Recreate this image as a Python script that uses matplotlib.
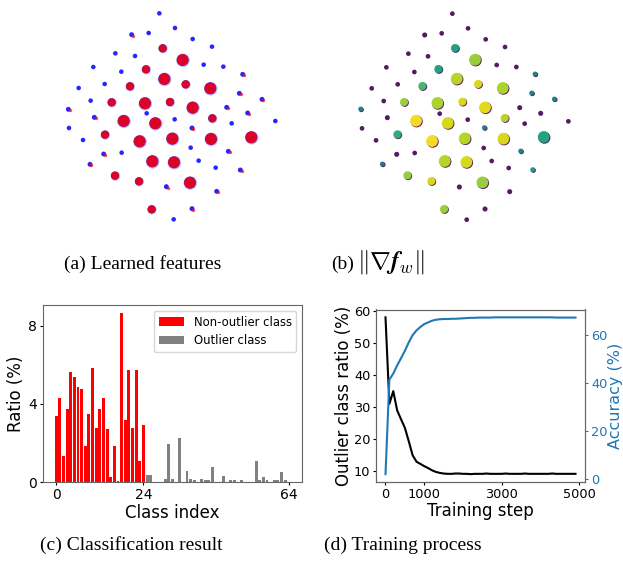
import numpy as np
import matplotlib
matplotlib.use('Agg')
import matplotlib.pyplot as plt

plt.rcParams['mathtext.fontset'] = 'cm'

# cluster centres of the feature embedding (picture coords, y downwards)
cx = [328, 375, 245, 296, 428, 486, 338, 196, 255, 398, 461, 520, 130, 214, 288, 578, 343,
      407, 164, 240, 481, 568, 86, 636, 122, 185, 285, 360, 428, 530, 55, 593, 290, 133,
      221, 316, 374, 487, 676, 57, 426, 545, 99, 165, 269, 367, 483, 604, 422, 215, 161,
      535, 446, 307, 372, 120, 497, 571, 195, 267, 420, 349, 500, 305, 426, 371]
cy = [40, 84, 104, 99, 117, 140, 145, 160, 168, 180, 194, 200, 201, 215, 208, 223, 237,
      253, 252, 259, 265, 280, 264, 298, 302, 307, 310, 306, 323, 322, 328, 339, 340, 352,
      363, 370, 358, 355, 363, 384, 384, 370, 420, 404, 424, 416, 417, 412, 443, 458, 462,
      454, 482, 484, 487, 493, 503, 510, 527, 544, 548, 560, 574, 628, 626, 658]
# 0 = outlier only, 1 = mostly outlier, 2 = medium class, 3 = big class
ctype = [0, 0, 1, 0, 0, 0, 2, 0, 0, 3, 0, 0, 0, 0, 2, 1, 3,
         2, 0, 2, 3, 1, 0, 1, 0, 2, 3, 2, 3, 1, 1, 1, 0, 1,
         3, 3, 0, 2, 0, 0, 1, 0, 0, 2, 3, 3, 3, 3, 0, 0, 1,
         1, 0, 3, 3, 1, 0, 1, 2, 2, 3, 1, 1, 2, 1, 0]
# gradient norm (0..1) per cluster
grad = [0, 0, 0, 0, 0, 0, 0.6, 0, 0, 0.85, 0, 0, 0, 0, 0.6, 0.45, 0.9,
        0.95, 0, 0.7, 0.88, 0.45, 0, 0.45, 0, 0.85, 0.88, 0.95, 0.97, 0, 0.45, 0, 0, 0,
        1.0, 0.95, 0, 0.9, 0, 0, 0.45, 0, 0, 0.65, 1.0, 0.9, 0.95, 0.6, 0, 0, 0,
        0.45, 0, 0.9, 0.95, 0.4, 0, 0.55, 0.85, 0.95, 0.85, 0, 0, 0.85, 0, 0]

# classification result
red_vals = [3.38, 4.33, 1.34, 3.72, 5.62, 5.36, 4.88, 4.76, 1.83, 3.5, 5.86, 2.78, 3.72,
            4.33, 2.72, 0.28, 1.83, 0.05, 8.64, 3.16, 5.74, 2.78, 5.74, 1.09, 2.9]
grey_vals = [0.36, 0.36, 0, 0, 0, 0.16, 1.93, 0.15, 0, 2.28, 0, 0.55, 0.13, 0.08, 0,
             0.15, 0.08, 0.08, 0.76, 0, 0, 0.3, 0, 0.08, 0.08, 0, 0.12, 0, 0, 0,
             1.06, 0.08, 0.26, 0.08, 0, 0.12, 0.08, 0.5, 0.08, 0]

# training process
steps = np.arange(0, 5000, 100)
outlier_ratio = [58.1, 31.0, 35.0, 29.0, 26.2, 23.5, 19.3, 14.9, 12.9, 12.2,
                 11.5, 10.9, 10.2, 9.7, 9.4, 9.2, 9.1, 9.1, 9.2, 9.2,
                 9.1, 9.1, 9.0, 9.1, 9.1, 9.1, 9.2, 9.1, 9.1, 9.1,
                 9.1, 9.2, 9.1, 9.1, 9.1, 9.1, 9.2, 9.1, 9.1, 9.1,
                 9.1, 9.1, 9.1, 9.2, 9.1, 9.1, 9.1, 9.1, 9.1, 9.1]
accuracy = [2.2, 41.5, 44.0, 47.4, 50.4, 53.5, 57.0, 60.0, 62.0, 63.4,
            64.6, 65.3, 66.0, 66.4, 66.6, 66.7, 66.7, 66.8, 66.8, 66.9,
            67.0, 67.1, 67.2, 67.2, 67.3, 67.3, 67.3, 67.3, 67.4, 67.4,
            67.4, 67.4, 67.4, 67.4, 67.4, 67.4, 67.4, 67.4, 67.4, 67.4,
            67.4, 67.4, 67.4, 67.4, 67.3, 67.3, 67.3, 67.3, 67.3, 67.3]

W, H = 623, 563
fig = plt.figure(figsize=(W / 100, H / 100), dpi=100)


def px_axes(left, top, width, height):
    return fig.add_axes([left / W, 1 - (top + height) / H, width / W, height / H])


cx = np.array(cx)
cy = np.array(cy)
ctype = np.array(ctype)
grad = np.array(grad)
sizes = np.array([12, 14, 38, 80])[ctype]
big = ctype >= 2
mix = ctype == 1

# (a) learned features
ax_a = px_axes(50, 0, 230, 230)
ax_a.scatter(cx[big] + 1, cy[big] + 1, s=sizes[big] * 1.2, c='#5050ff', alpha=0.4,
             linewidths=0)
ax_a.scatter(cx, cy, s=sizes * 0.9, c='blue', alpha=0.85, linewidths=0)
ax_a.scatter(cx[big], cy[big], s=sizes[big] * 0.9, c='red', alpha=0.85, linewidths=0)
ax_a.scatter(cx[mix] + 4, cy[mix] + 3, s=6, c='red', alpha=0.7, linewidths=0)
ax_a.set_xlim(0, 690)
ax_a.set_ylim(690, 0)
ax_a.axis('off')

# (b) gradient norm
hot = grad > 0
ax_b = px_axes(342.7, 0, 230, 230)
ax_b.scatter(cx + 1, cy + 1, s=sizes * 0.95, c='#440154', alpha=0.9, linewidths=0)
ax_b.scatter(cx[hot] - 1, cy[hot] - 1, s=sizes[hot] * 0.9, c=grad[hot], cmap='viridis',
             vmin=0, vmax=1, alpha=0.95, linewidths=0)
ax_b.set_xlim(0, 690)
ax_b.set_ylim(690, 0)
ax_b.axis('off')

# (c) classification result
n_red = len(red_vals)
ax_c = px_axes(43, 305, 259, 177)
ax_c.bar(np.arange(n_red), red_vals, width=0.8, color='red', label='Non-outlier class')
ax_c.bar(np.arange(n_red, n_red + len(grey_vals)), grey_vals, width=0.8, color='grey',
         label='Outlier class')
ax_c.set_xticks([0, 24, 64])
ax_c.set_yticks([0, 4, 8])
ax_c.tick_params(labelsize=10, length=2.5, pad=2)
ax_c.set_xlabel('Class index', fontsize=12, labelpad=1)
ax_c.set_ylabel('Ratio (%)', fontsize=12, labelpad=2)
ax_c.legend(loc='upper right', fontsize=8.4, handlelength=2.2)
for s in ax_c.spines.values():
    s.set_color('0.4')

# (d) training process
ax_d = px_axes(376, 309.5, 209, 172.5)
ax_d.plot(steps, outlier_ratio, color='black', linewidth=1.5)
ax_d.set_xticks([0, 1000, 3000, 5000])
ax_d.set_yticks([10, 20, 30, 40, 50, 60])
ax_d.set_xlabel('Training step', fontsize=12, labelpad=1)
ax_d.set_ylabel('Outlier class ratio (%)', fontsize=12, labelpad=1)
ax_d.tick_params(labelsize=9.3, length=2.5, pad=1.5)
ax_r = ax_d.twinx()
ax_r.plot(steps, accuracy, color='tab:blue', linewidth=1.5)
ax_r.set_yticks([0, 20, 40, 60])
ax_r.tick_params(labelsize=9.3, colors='tab:blue', length=2.5, pad=2)
ax_r.set_ylabel('Accuracy (%)', fontsize=11.5, color='tab:blue', labelpad=0)
for a in (ax_d, ax_r):
    for s in a.spines.values():
        s.set_color('0.4')

# captions
cap = dict(fontsize=14, family='Liberation Serif', va='baseline')
fig.text(143 / W, 1 - 269 / H, '(a) Learned features', ha='center', **cap)
fig.text(331 / W, 1 - 269 / H, '(b)', ha='left', **cap)
fig.text(357 / W, 1 - 269 / H, r'$\|\nabla \mathbfit{f}_w\|$', ha='left',
         fontsize=18, va='baseline')
fig.text(131 / W, 1 - 550 / H, '(c) Classification result', ha='center', **cap)
fig.text(403 / W, 1 - 550 / H, '(d) Training process', ha='center', **cap)

plt.savefig('out.png', dpi=100)
